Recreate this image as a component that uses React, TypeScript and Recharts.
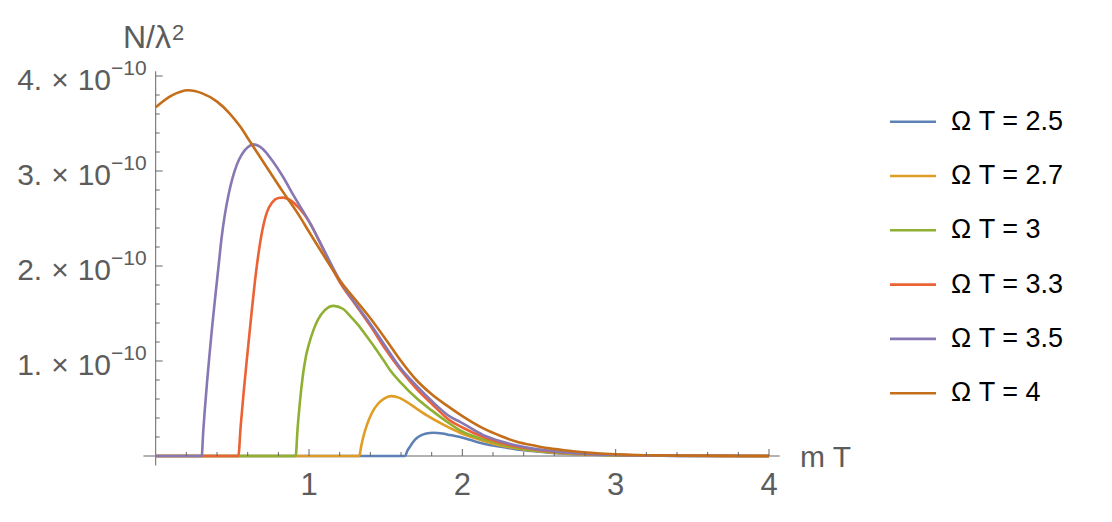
import { Line, LineChart, ReferenceLine, XAxis, YAxis } from "recharts";

type Pt = [number, number];

// N/λ² in units of 1e-10
const omega25: Pt[] = [
  [0, 0], [1.626, 0], [1.64, 0.05], [1.659, 0.1], [1.68, 0.15], [1.703, 0.19], [1.73, 0.217],
  [1.765, 0.236], [1.81, 0.245], [1.87, 0.237], [1.92, 0.22], [1.985, 0.2], [2.05, 0.17],
  [2.14, 0.13], [2.25, 0.097], [2.355, 0.07], [2.45, 0.052], [2.57, 0.035], [2.7, 0.022],
  [2.85, 0.013], [3.0, 0.007], [3.3, 0.002], [3.6, 0.0005], [4, 0],
];
const omega27: Pt[] = [
  [0, 0], [1.328, 0], [1.34, 0.1], [1.354, 0.2], [1.376, 0.32], [1.409, 0.45], [1.45, 0.55],
  [1.49, 0.605], [1.533, 0.63], [1.58, 0.617], [1.637, 0.57], [1.7, 0.5], [1.766, 0.43],
  [1.876, 0.33], [1.985, 0.245], [2.06, 0.2], [2.137, 0.16], [2.25, 0.11], [2.355, 0.08],
  [2.47, 0.055], [2.6, 0.035], [2.75, 0.02], [2.9, 0.012], [3.1, 0.006], [3.4, 0.002], [4, 0],
];
const omega30: Pt[] = [
  [0, 0], [0.913, 0], [0.925, 0.28], [0.94, 0.56], [0.96, 0.85], [0.98, 1.05], [1.0, 1.18],
  [1.03, 1.33], [1.06, 1.44], [1.1, 1.53], [1.16, 1.58], [1.22, 1.55], [1.27, 1.47],
  [1.32, 1.38], [1.376, 1.26], [1.43, 1.14], [1.485, 1.01], [1.528, 0.905], [1.6, 0.77],
  [1.7, 0.61], [1.8, 0.48], [1.9, 0.36], [1.985, 0.27], [2.06, 0.215], [2.137, 0.175],
  [2.25, 0.125], [2.355, 0.085], [2.47, 0.06], [2.6, 0.04], [2.75, 0.024], [2.9, 0.014],
  [3.1, 0.007], [3.4, 0.002], [4, 0],
];
const omega33: Pt[] = [
  [0, 0], [0.539, 0], [0.554, 0.31], [0.572, 0.64], [0.594, 1.01], [0.626, 1.52], [0.654, 1.93],
  [0.69, 2.33], [0.724, 2.56], [0.76, 2.67], [0.8, 2.715], [0.833, 2.72], [0.87, 2.70],
  [0.94, 2.6], [1.0, 2.47], [1.1, 2.15], [1.2, 1.83], [1.3, 1.6], [1.4, 1.37], [1.5, 1.12],
  [1.6, 0.9], [1.7, 0.71], [1.8, 0.55], [1.92, 0.372], [2.0, 0.3], [2.137, 0.2], [2.25, 0.14],
  [2.355, 0.1], [2.47, 0.07], [2.6, 0.045], [2.75, 0.028], [2.9, 0.016], [3.1, 0.008],
  [3.4, 0.002], [4, 0],
];
const omega35: Pt[] = [
  [0, 0], [0.3, 0], [0.31, 0.26], [0.32, 0.48], [0.335, 0.78], [0.35, 1.05], [0.37, 1.39],
  [0.39, 1.7], [0.41, 2.0], [0.43, 2.3], [0.45, 2.53], [0.475, 2.75], [0.5, 2.92], [0.53, 3.07],
  [0.56, 3.17], [0.6, 3.25], [0.637, 3.28], [0.7, 3.23], [0.76, 3.11], [0.83, 2.94],
  [0.9, 2.74], [1.0, 2.47], [1.1, 2.16], [1.2, 1.85], [1.3, 1.61], [1.4, 1.39], [1.5, 1.15],
  [1.594, 0.93], [1.7, 0.74], [1.8, 0.58], [1.92, 0.414], [1.985, 0.36], [2.137, 0.22],
  [2.25, 0.155], [2.355, 0.11], [2.47, 0.075], [2.57, 0.056], [2.7, 0.035], [2.85, 0.02],
  [3.0, 0.012], [3.2, 0.005], [3.5, 0.001], [4, 0],
];
const omega40: Pt[] = [
  [0, 3.67], [0.1, 3.79], [0.213, 3.85], [0.3, 3.82], [0.4, 3.73], [0.48, 3.61], [0.55, 3.47],
  [0.615, 3.31], [0.7, 3.1], [0.83, 2.78], [0.94, 2.52], [1.0, 2.36], [1.1, 2.1], [1.2, 1.85],
  [1.3, 1.65], [1.376, 1.5], [1.5, 1.23], [1.6, 1.0], [1.7, 0.8], [1.8, 0.65], [1.9, 0.53],
  [2.0, 0.42], [2.137, 0.29], [2.25, 0.21], [2.355, 0.15], [2.47, 0.11], [2.57, 0.08],
  [2.68, 0.058], [2.79, 0.04], [2.9, 0.027], [3.0, 0.018], [3.2, 0.008], [3.4, 0.004],
  [3.7, 0.001], [4, 0],
];

const seriesData = [omega25, omega27, omega30, omega33, omega35, omega40];
const seriesNames = ["Ω T = 2.5", "Ω T = 2.7", "Ω T = 3", "Ω T = 3.3", "Ω T = 3.5", "Ω T = 4"];
const seriesColors = ["#5E81B5", "#E19C24", "#8FB032", "#EB6235", "#8778B3", "#C56E1A"];

const xTicks = [0.2, 0.4, 0.6, 0.8, 1, 1.2, 1.4, 1.6, 1.8, 2, 2.2, 2.4, 2.6, 2.8, 3, 3.2, 3.4, 3.6, 3.8, 4];
const yTicks = [0.2, 0.4, 0.6, 0.8, 1, 1.2, 1.4, 1.6, 1.8, 2, 2.2, 2.4, 2.6, 2.8, 3, 3.2, 3.4, 3.6, 3.8, 4];

const AXIS = "#666";
const LABEL = "#5c5c5c";
const FONT = "'Liberation Sans', Arial, sans-serif";

function XTick({ x, y, payload }: any) {
  const major = Number.isInteger(payload.value);
  return (
    <g>
      <line x1={x} x2={x} y1={y} y2={y - (major ? 7 : 4)} stroke={AXIS} strokeWidth={1} />
      {major && (
        <text x={x} y={y + 39} textAnchor="middle" fill={LABEL} fontSize={31} fontFamily={FONT}>
          {payload.value}
        </text>
      )}
    </g>
  );
}

function YTick({ x, y, payload }: any) {
  const major = Number.isInteger(payload.value);
  return (
    <g>
      <line x1={x} x2={x + (major ? 7 : 4)} y1={y} y2={y} stroke={AXIS} strokeWidth={1} />
      {major && (
        <text x={x - 9} y={y + 14} textAnchor="end" fill={LABEL} fontSize={30} fontFamily={FONT}>
          {`${payload.value}.`}
          <tspan dx={9}>×</tspan>
          <tspan dx={9}>10</tspan>
          <tspan dy={-15} fontSize={21}>−10</tspan>
        </text>
      )}
    </g>
  );
}

export default function App() {
  return (
    <div style={{ position: "absolute", left: 0, top: 0, width: 1112, height: 522, background: "#fff" }}>
      <LineChart width={1112} height={522} margin={{ top: 76, right: 343, bottom: 0, left: 0 }}>
        <XAxis
          dataKey="x"
          type="number"
          domain={[0, 4]}
          ticks={xTicks}
          interval={0}
          height={66}
          axisLine={false}
          tickLine={false}
          tickSize={0}
          tickMargin={0}
          tick={<XTick />}
        />
        <YAxis
          type="number"
          domain={[0, 4]}
          ticks={yTicks}
          interval={0}
          width={155.7}
          axisLine={false}
          tickLine={false}
          tickSize={0}
          tickMargin={0}
          tick={<YTick />}
        />
        <ReferenceLine segment={[{ x: -0.08, y: 0 }, { x: 4.07, y: 0 }]} stroke={AXIS} ifOverflow="visible" />
        <ReferenceLine segment={[{ x: 0, y: -0.1 }, { x: 0, y: 4.05 }]} stroke={AXIS} ifOverflow="visible" />
        {seriesData.map((pts, i) => (
          <Line
            key={seriesNames[i]}
            data={pts.map(([x, y]) => ({ x, y }))}
            dataKey="y"
            name={seriesNames[i]}
            type="monotone"
            stroke={seriesColors[i]}
            strokeWidth={2.6}
            dot={false}
            activeDot={false}
            isAnimationActive={false}
          />
        ))}
      </LineChart>
      <svg width={1112} height={522} style={{ position: "absolute", left: 0, top: 0, pointerEvents: "none" }}>
        <text x={123} y={48} fill={LABEL} fontSize={32} fontFamily={FONT}>
          N/λ<tspan dy={-8} dx={1} fontSize={22}>2</tspan>
        </text>
        <text x={800} y={467} fill={LABEL} fontSize={30} fontFamily={FONT}>m T</text>
        {seriesNames.map((name, i) => {
          const cy = 121.7 + 54.3 * i;
          return (
            <g key={name}>
              <line x1={890} x2={936} y1={cy} y2={cy} stroke={seriesColors[i]} strokeWidth={2.6} />
              <text x={951} y={cy + 8} fill="#000" fontSize={27} fontFamily={FONT}>{name}</text>
            </g>
          );
        })}
      </svg>
    </div>
  );
}
